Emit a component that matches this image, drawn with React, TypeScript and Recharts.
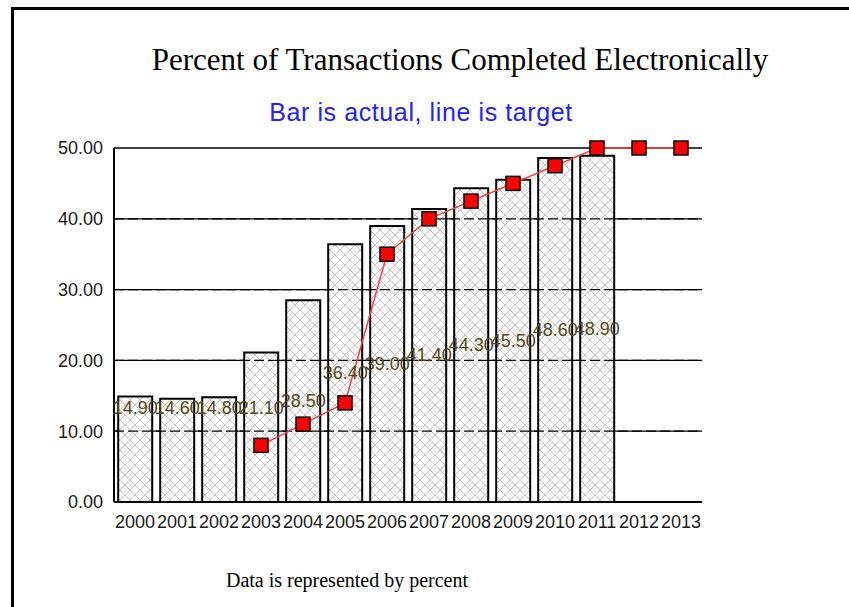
import React from "react";
import {
  Bar,
  CartesianGrid,
  ComposedChart,
  LabelList,
  Line,
  ReferenceLine,
  XAxis,
  YAxis,
} from "recharts";

const years = [
  "2000", "2001", "2002", "2003", "2004", "2005", "2006",
  "2007", "2008", "2009", "2010", "2011", "2012", "2013",
];
const actual = [14.9, 14.6, 14.8, 21.1, 28.5, 36.4, 39.0, 41.4, 44.3, 45.5, 48.6, 48.9, null, null];
const target = [null, null, null, 8, 11, 14, 35, 40, 42.5, 45, 47.5, 50, 50, 50];
const yTicks = [0, 10, 20, 30, 40, 50];

const data = years.map((year, i) => ({
  year,
  actual: actual[i],
  target: target[i],
}));

const SANS = "Arial, 'Liberation Sans', sans-serif";
const SERIF = "'Times New Roman', 'Liberation Serif', serif";

function BarValueLabel(props: any) {
  const { x, y, width, height, value } = props;
  if (value == null) return null;
  const bottom = y + height;
  const cy = bottom - Math.max(height / 2, 94);
  return (
    <text
      x={x + width / 2}
      y={cy}
      textAnchor="middle"
      dominantBaseline="central"
      fontFamily={SANS}
      fontSize={18}
      fill="#5a4516"
    >
      {Number(value).toFixed(2)}
    </text>
  );
}

function SquareDot(props: any) {
  const { cx, cy, value, index } = props;
  if (value == null || cx == null || cy == null) return <g key={`d${index}`} />;
  return (
    <rect
      key={`d${index}`}
      x={cx - 7}
      y={cy - 7}
      width={14}
      height={14}
      fill="#ff0000"
      stroke="#000"
      strokeWidth={1.5}
    />
  );
}

export default function App() {
  return (
    <div
      style={{
        position: "absolute",
        left: 0,
        top: 0,
        width: 849,
        height: 607,
        overflow: "hidden",
        background: "#fff",
      }}
    >
      <svg width={0} height={0} style={{ position: "absolute" }}>
        <defs>
          <pattern id="hatch" width={10} height={10} patternUnits="userSpaceOnUse">
            <rect width={10} height={10} fill="#fff" />
            <path d="M0,0 L10,10 M10,0 L0,10" stroke="#c4c4c4" strokeWidth={1} />
          </pattern>
        </defs>
      </svg>

      <div
        style={{
          position: "absolute",
          left: 11,
          top: 7,
          width: 835,
          height: 597,
          borderLeft: "3px solid #000",
          borderTop: "3px solid #000",
        }}
      />

      <div
        style={{
          position: "absolute",
          left: 130,
          top: 44,
          width: 660,
          textAlign: "center",
          fontFamily: SERIF,
          fontSize: 31,
          lineHeight: "32px",
          color: "#000",
        }}
      >
        Percent of Transactions Completed Electronically
      </div>
      <div
        style={{
          position: "absolute",
          left: 221,
          top: 98,
          width: 400,
          textAlign: "center",
          fontFamily: SANS,
          fontSize: 25,
          letterSpacing: 0.6,
          lineHeight: "28px",
          color: "#2222ff",
        }}
      >
        Bar is actual, line is target
      </div>
      <div
        style={{
          position: "absolute",
          left: 147,
          top: 568,
          width: 400,
          textAlign: "center",
          fontFamily: SERIF,
          fontSize: 20,
          lineHeight: "24px",
          color: "#000",
        }}
      >
        Data is represented by percent
      </div>

      <div style={{ position: "absolute", left: 0, top: 0 }}>
        <ComposedChart
          width={849}
          height={607}
          data={data}
          margin={{ top: 148, right: 147, bottom: 75, left: 14 }}
          barCategoryGap="10%"
        >
          <CartesianGrid
            yAxisId="left"
            vertical={false}
            stroke="#000"
            strokeWidth={1.3}
          />
          <XAxis
            dataKey="year"
            height={30}
            tickLine={false}
            tickSize={0}
            tickMargin={13}
            axisLine={{ stroke: "#000", strokeWidth: 2 }}
            tick={{ fill: "#1a1a1a", fontFamily: SANS, fontSize: 18 }}
            interval={0}
          />
          <YAxis
            yAxisId="left"
            width={100}
            domain={[0, 50]}
            ticks={yTicks}
            tickLine={false}
            tickSize={0}
            tickMargin={11}
            axisLine={{ stroke: "#000", strokeWidth: 2 }}
            tick={{ fill: "#1a1a1a", fontFamily: SANS, fontSize: 18 }}
            tickFormatter={(v: number) => v.toFixed(2)}
          />
          <YAxis
            yAxisId="right"
            orientation="right"
            width={0}
            domain={[0, 50]}
            ticks={yTicks}
            tick={false}
            tickLine={false}
            axisLine={{ stroke: "#000", strokeWidth: 2 }}
          />
          <Bar
            yAxisId="left"
            dataKey="actual"
            fill="url(#hatch)"
            stroke="#000"
            strokeWidth={2}
            isAnimationActive={false}
          >
            <LabelList dataKey="actual" content={BarValueLabel} />
          </Bar>
          {yTicks.slice(1, -1).map((v) => (
            <ReferenceLine
              key={v}
              yAxisId="left"
              y={v}
              stroke="#000"
              strokeWidth={1.3}
              strokeDasharray="10 4"
            />
          ))}
          <Line
            yAxisId="left"
            dataKey="target"
            type="linear"
            stroke="#ff3b3b"
            strokeWidth={1.5}
            dot={SquareDot}
            activeDot={false}
            connectNulls={false}
            isAnimationActive={false}
          />
        </ComposedChart>
      </div>
    </div>
  );
}
